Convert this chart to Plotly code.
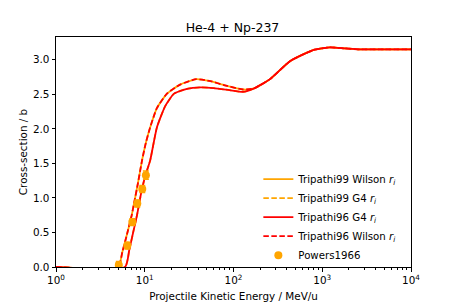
import plotly.graph_objects as go

# Wilson r_i curve (upper)
E_wilson = [1, 5.0, 5.6, 6.3, 7.13, 7.57, 8.4, 9.31, 10.3, 11.5, 13.7, 17.8, 25, 38, 55, 80, 128, 170, 258, 433, 787, 1222, 1800, 2663, 5000, 10000]
xs_wilson = [0, 0, 0.22, 0.47, 0.75, 0.92, 1.22, 1.54, 1.80, 2.02, 2.30, 2.51, 2.64, 2.72, 2.69, 2.63, 2.57, 2.585, 2.72, 2.98, 3.14, 3.18, 3.165, 3.15, 3.152, 3.152]

# G4 r_i curve (lower)
E_g4 = [1, 6.0, 6.7, 7.4, 8.18, 9.2, 10.3, 11.5, 13.7, 17, 21.4, 30, 42, 60, 90, 128, 170, 258, 433, 787, 1222, 1800, 2663, 5000, 10000]
xs_g4 = [0, 0, 0.25, 0.50, 0.75, 1.10, 1.35, 1.54, 2.02, 2.33, 2.51, 2.58, 2.60, 2.59, 2.56, 2.535, 2.585, 2.72, 2.98, 3.14, 3.18, 3.165, 3.15, 3.152, 3.152]

# Powers1966 data
E_data = [5.1, 6.36, 7.24, 8.24, 9.38, 10.3]
xs_data = [0.03, 0.31, 0.65, 0.92, 1.13, 1.33]
xs_err = [0.05, 0.05, 0.05, 0.05, 0.05, 0.06]
E_err = [0.3, 0.3, 0.3, 0.3, 0.3, 0.4]

ORANGE = "#FFA500"
RED = "#FF0000"
DASH = "5.5px,2.5px"
SM = 0.5
RI = "&nbsp;<i>r<sub>i</sub></i>"

fig = go.Figure()
fig.add_trace(go.Scatter(x=E_wilson, y=xs_wilson, mode="lines", name="Tripathi99 Wilson" + RI,
                         line=dict(color=ORANGE, width=1.8, shape="spline", smoothing=SM)))
fig.add_trace(go.Scatter(x=E_g4, y=xs_g4, mode="lines", name="Tripathi99 G4" + RI,
                         line=dict(color=ORANGE, width=1.8, dash=DASH, shape="spline", smoothing=SM)))
fig.add_trace(go.Scatter(x=E_g4, y=xs_g4, mode="lines", name="Tripathi96 G4" + RI,
                         line=dict(color=RED, width=1.8, shape="spline", smoothing=SM)))
fig.add_trace(go.Scatter(x=E_wilson, y=xs_wilson, mode="lines", name="Tripathi96 Wilson" + RI,
                         line=dict(color=RED, width=1.8, dash=DASH, shape="spline", smoothing=SM)))
fig.add_trace(go.Scatter(x=E_data, y=xs_data, mode="markers", name="Powers1966",
                         marker=dict(color=ORANGE, symbol="circle", size=8),
                         error_y=dict(type="data", array=xs_err, color=ORANGE, thickness=1.5, width=3),
                         error_x=dict(type="data", array=E_err, color=ORANGE, thickness=1.5, width=3)))

major = [1, 10, 100, 1000, 10000]
major_txt = ["10<sup>0</sup>", "10<sup>1</sup>", "10<sup>2</sup>", "10<sup>3</sup>", "10<sup>4</sup>"]
minor = [m * d for d in [1, 10, 100, 1000] for m in range(2, 10)]

# page body has an 8px default margin, so the figure is shrunk by 8px
fig.update_layout(
    width=449, height=297,
    margin=dict(l=48, r=46, t=29, b=38),
    paper_bgcolor="white", plot_bgcolor="white",
    font=dict(family="DejaVu Sans", size=10.4, color="black"),
    title=dict(text="He-4 + Np-237", x=0.5, xanchor="center", y=0.935, yanchor="middle",
               font=dict(size=12.5)),
    showlegend=True,
    legend=dict(x=0.57, y=0.445, xanchor="left", yanchor="top", bgcolor="rgba(255,255,255,0)",
                font=dict(size=10.2), tracegroupgap=0),
)
fig.update_xaxes(type="log", range=[0, 4], showline=True, linecolor="black", linewidth=1, mirror=True,
                 showgrid=False, zeroline=False, ticks="outside", ticklen=3.5, tickcolor="black",
                 tickvals=major, ticktext=major_txt, automargin=False,
                 minor=dict(tickvals=minor, ticks="outside", ticklen=2, tickcolor="black", showgrid=False),
                 title=dict(text="Projectile Kinetic Energy / MeV/u", standoff=7, font=dict(size=10.4)))
fig.update_yaxes(range=[0, 3.33], showline=True, linecolor="black", linewidth=1, mirror=True,
                 showgrid=False, zeroline=False, ticks="outside", ticklen=3.5, tickcolor="black",
                 tickvals=[0, 0.5, 1.0, 1.5, 2.0, 2.5, 3.0], tickformat=".1f", automargin=False,
                 title=dict(text="Cross-section / b", standoff=3, font=dict(size=10.4)))

fig.write_html("out.html")
